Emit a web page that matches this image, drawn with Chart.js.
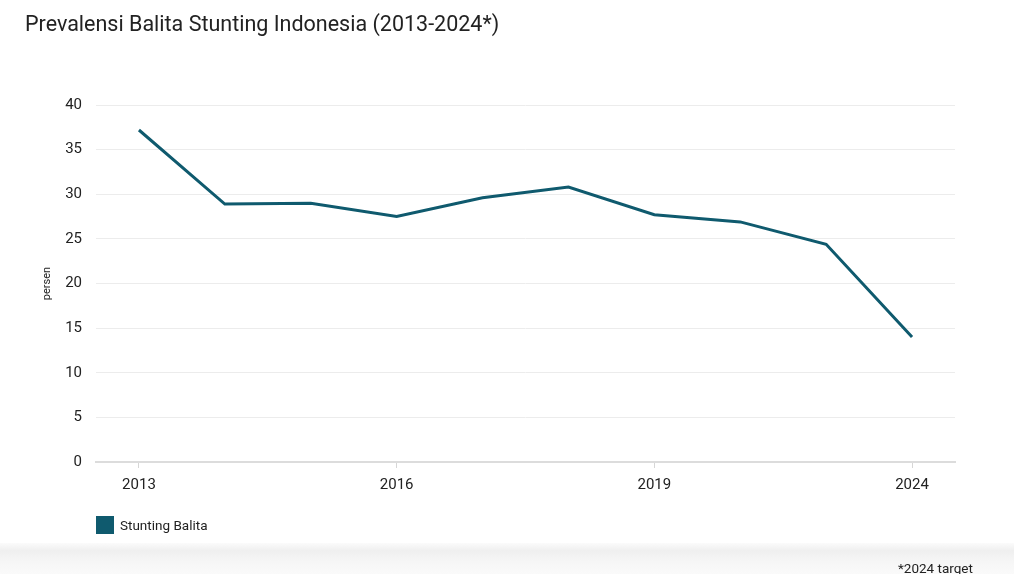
<!DOCTYPE html>
<html>
<head>
<meta charset="utf-8">
<script src="https://cdn.jsdelivr.net/npm/chart.js@4.4.1/dist/chart.umd.min.js"></script>
<style>
  html, body { margin: 0; padding: 0; background: #fff; width: 1014px; height: 574px; overflow: hidden; font-family: Roboto, "Noto Sans", sans-serif; }
  #title { position: absolute; left: 25px; top: 11px; font-size: 21.5px; color: #222; }
  #wrap { position: absolute; left: 0; top: 0; width: 1014px; height: 574px; }
  #legend { position: absolute; left: 96px; top: 516px; display: flex; align-items: center; font-size: 13.5px; color: #222; }
  #legend .box { width: 18px; height: 18px; background: #0f5a6e; margin-right: 6px; }
  #footer { position: absolute; left: 0; top: 543px; width: 1014px; height: 31px; background: linear-gradient(#fbfbfb, #efefef 25%, #f6f6f6 60%, #fafafa); }
  #note { position: absolute; left: 898px; top: 560px; font-size: 13.5px; color: #222; }
</style>
</head>
<body>
<div id="wrap"><canvas id="c" width="1014" height="574"></canvas></div>
<div id="title">Prevalensi Balita Stunting Indonesia (2013-2024*)</div>
<div id="legend"><div class="box"></div><span>Stunting Balita</span></div>
<div id="footer"></div>
<div id="note">*2024 target</div>
<script>
const years = ["2013", "2014", "2015", "2016", "2017", "2018", "2019", "2020", "2021", "2024"];
const stunting = [37.2, 28.9, 29.0, 27.5, 29.6, 30.8, 27.7, 26.9, 24.4, 14.0];
const seriesName = "Stunting Balita";
const yTitle = "persen";

new Chart(document.getElementById('c'), {
  type: 'line',
  data: {
    labels: years,
    datasets: [{
      label: seriesName,
      data: stunting,
      borderColor: '#0f5a6e',
      backgroundColor: '#0f5a6e',
      borderWidth: 3,
      pointRadius: 0,
      pointHoverRadius: 0,
      tension: 0,
      fill: false
    }]
  },
  options: {
    responsive: false,
    animation: false,
    layout: { padding: { top: 105, right: 59, bottom: 0, left: 0 } },
    plugins: { legend: { display: false }, tooltip: { enabled: false } },
    scales: {
      x: {
        offset: true,
        afterFit: s => { s.height = 112; },
        border: { display: true, color: '#dcdcdc', width: 2 },
        grid: {
          drawOnChartArea: false,
          drawTicks: true,
          tickLength: 6,
          color: ctx => (ctx.index % 3 === 0 ? '#d6d6d6' : 'rgba(0,0,0,0)')
        },
        ticks: {
          autoSkip: false,
          maxRotation: 0,
          padding: 8,
          color: '#222',
          font: { family: 'Roboto', size: 15 },
          callback: function(v, i) { return i % 3 === 0 ? this.getLabelForValue(v) : ''; }
        }
      },
      y: {
        min: 0,
        max: 40,
        afterFit: s => { s.width = 96; },
        border: { display: false },
        grid: { color: '#ececec', drawTicks: false, lineWidth: 1 },
        ticks: {
          stepSize: 5,
          padding: 14,
          color: '#222',
          font: { family: 'Roboto', size: 15 }
        },
        title: {
          display: true,
          text: yTitle,
          color: '#222',
          font: { family: 'Roboto', size: 11 },
          padding: { top: 41, bottom: 0 }
        }
      }
    }
  }
});
</script>
</body>
</html>
